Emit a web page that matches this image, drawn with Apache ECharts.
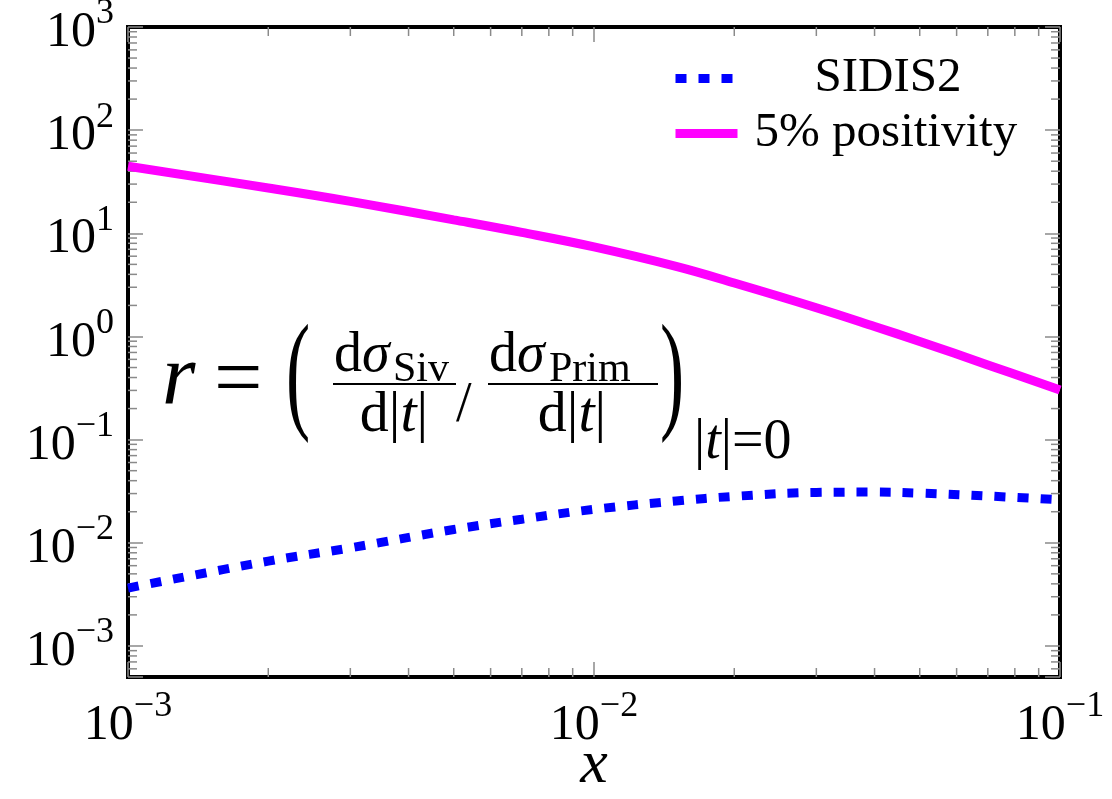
<!DOCTYPE html>
<html>
<head>
<meta charset="utf-8">
<script src="https://cdn.jsdelivr.net/npm/echarts@6/dist/echarts.min.js"></script>
<style>
  html, body { margin: 0; padding: 0; background: #fff; }
  #main { width: 1112px; height: 799px; }
</style>
</head>
<body>
<div id="main"></div>
<script>
// x values (log spaced) and the two curves
const xValues = [0.001, 0.002, 0.003, 0.005, 0.007, 0.01, 0.015, 0.02, 0.03, 0.04, 0.05, 0.07, 0.1];
const sidis2 = [0.00364, 0.00664, 0.00893, 0.01346, 0.01694, 0.0211, 0.0254, 0.0282, 0.0308, 0.0310, 0.0303, 0.0284, 0.0261];
const positivity = [44.7, 27.5, 20.4, 13.5, 10.2, 7.38, 4.78, 3.30, 1.90, 1.25, 0.895, 0.530, 0.302];
const seriesNames = ['SIDIS2', '5% positivity'];

// axis ranges
const xMin = 1e-3, xMax = 1e-1;
const yMin = 5e-4, yMax = 1e3;

const FONT = '"Liberation Serif", "DejaVu Serif", serif';

// minor ticks at 2..9 x 10^k
function minorTicks(lo, hi) {
    let out = [];
    for (let k = -5; k <= 3; k++) {
        for (let m = 2; m <= 9; m++) {
            let v = m * Math.pow(10, k);
            if (v > lo * 1.0001 && v < hi * 0.9999) out.push(v);
        }
    }
    return out;
}
const xMinor = minorTicks(xMin, xMax);
const yMinor = minorTicks(yMin, yMax);

function powLabel(value) {
    let e = Math.log10(value);
    let r = Math.round(e);
    if (Math.abs(e - r) > 1e-6) return '';
    return '{b|10}{s|' + (r < 0 ? '\u2212' : '') + Math.abs(r) + '}';
}
const labelRich = {
    b: { fontFamily: FONT, fontSize: 50, color: '#000', lineHeight: 62, verticalAlign: 'bottom' },
    s: { fontFamily: FONT, fontSize: 36, color: '#000', lineHeight: 62, verticalAlign: 'top' }
};

const tickColor = '#8a8a8a';
const majorTick = { show: true, inside: true, length: 15, lineStyle: { color: tickColor, width: 1.5 } };
const minorLen = 9;

function pairs(ys) {
    return xValues.map((x, i) => [x, ys[i]]);
}

const chart = echarts.init(document.getElementById('main'));

// pieces of the formula annotation
function txt(str, x, y, size, extra) {
    return {
        type: 'text',
        x: x, y: y,
        style: Object.assign({
            text: str, fontFamily: FONT, fontSize: size, fill: '#000',
            align: 'left', verticalAlign: 'middle'
        }, extra || {})
    };
}
function bar(x1, x2, y) {
    return { type: 'line', shape: { x1: x1, y1: y, x2: x2, y2: y }, style: { stroke: '#000', lineWidth: 2 } };
}
function denom(x) {
    return {
        type: 'text', x: x, y: 416,
        style: {
            text: '{u|d|}{i|t}{u||}', fontFamily: FONT, fontSize: 58, align: 'center', verticalAlign: 'middle',
            rich: {
                u: { fontFamily: FONT, fontSize: 58, color: '#000' },
                i: { fontFamily: FONT, fontSize: 58, fontStyle: 'italic', color: '#000' }
            }
        }
    };
}

const option = {
    animation: false,
    backgroundColor: '#fff',
    grid: {
        left: 128, right: 52, top: 27, bottom: 122,
        outerBoundsMode: 'none',
        containLabel: false,
        show: true, borderColor: '#000', borderWidth: 4, backgroundColor: 'transparent'
    },
    legend: {
        data: seriesNames,
        orient: 'vertical',
        left: 666, top: 46,
        itemWidth: 62, itemHeight: 12,
        itemGap: 0,
        itemStyle: { color: 'rgba(0,0,0,0)', borderWidth: 0 },
        lineStyle: { width: 9 },
        formatter: function (name) {
            return (name === seriesNames[0] ? '{padA|}' : '{padB|}') + name;
        },
        textStyle: {
            fontFamily: FONT, fontSize: 49, color: '#000', lineHeight: 55,
            rich: { padA: { width: 72 }, padB: { width: 12 } }
        }
    },
    xAxis: [{
        type: 'log', min: xMin, max: xMax,
        axisLine: { show: false },
        axisTick: majorTick,
        splitLine: { show: false },
        axisLabel: { formatter: powLabel, rich: labelRich, margin: 12 },
        name: 'x', nameLocation: 'middle', nameGap: 58, nameMoveOverlap: false,
        nameTextStyle: { fontFamily: FONT, fontSize: 62, fontStyle: 'italic', color: '#000' }
    }, {
        type: 'log', min: xMin, max: xMax, position: 'top',
        axisLine: { show: false }, axisTick: majorTick,
        splitLine: { show: false }, axisLabel: { show: false }
    }],
    yAxis: [{
        type: 'log', min: yMin, max: yMax,
        axisLine: { show: false },
        axisTick: majorTick,
        splitLine: { show: false },
        axisLabel: { formatter: powLabel, rich: labelRich, margin: 14 }
    }, {
        type: 'log', min: yMin, max: yMax, position: 'right',
        axisLine: { show: false }, axisTick: majorTick,
        splitLine: { show: false }, axisLabel: { show: false }
    }],
    series: [
        {
            type: 'custom', silent: true, clip: false, z: 1,
            data: xMinor.map(v => [v, 1]),
            renderItem: function (params, api) {
                const cs = params.coordSys;
                const x = api.coord([api.value(0), 1])[0];
                const st = { stroke: tickColor, lineWidth: 1.5 };
                return { type: 'group', children: [
                    { type: 'line', shape: { x1: x, y1: cs.y + cs.height, x2: x, y2: cs.y + cs.height - minorLen }, style: st },
                    { type: 'line', shape: { x1: x, y1: cs.y, x2: x, y2: cs.y + minorLen }, style: st }
                ] };
            }
        },
        {
            type: 'custom', silent: true, clip: false, z: 1,
            data: yMinor.map(v => [0.01, v]),
            renderItem: function (params, api) {
                const cs = params.coordSys;
                const y = api.coord([0.01, api.value(1)])[1];
                const st = { stroke: tickColor, lineWidth: 1.5 };
                return { type: 'group', children: [
                    { type: 'line', shape: { x1: cs.x, y1: y, x2: cs.x + minorLen, y2: y }, style: st },
                    { type: 'line', shape: { x1: cs.x + cs.width, y1: y, x2: cs.x + cs.width - minorLen, y2: y }, style: st }
                ] };
            }
        },
        {
            name: seriesNames[0],
            type: 'line',
            data: pairs(sidis2),
            smooth: 0.4,
            showSymbol: false, symbol: 'none',
            color: '#0000ff',
            lineStyle: { color: '#0000ff', width: 9, type: [11, 12], cap: 'butt' },
            z: 3
        },
        {
            name: seriesNames[1],
            type: 'line',
            data: pairs(positivity),
            smooth: 0.4,
            showSymbol: false, symbol: 'none',
            color: '#ff00ff',
            lineStyle: { color: '#ff00ff', width: 9 },
            z: 3
        }
    ],
    graphic: [
        txt('r', 162, 381, 86, { fontStyle: 'italic' }),
        txt('=', 214, 383, 86),
        {
            type: 'text', x: 286, y: 380, scaleX: 0.55,
            style: { text: '(', fontFamily: FONT, fontSize: 132, fill: '#000', align: 'left', verticalAlign: 'middle' }
        },
        txt('d', 334, 356, 56),
        txt('\u03c3', 362, 356, 56, { fontStyle: 'italic' }),
        txt('Siv', 393, 370, 42),
        bar(333, 456, 384),
        denom(394),
        txt('/', 456, 406, 56),
        txt('d', 489, 356, 56),
        txt('\u03c3', 517, 356, 56, { fontStyle: 'italic' }),
        txt('Prim', 549, 370, 42, { letterSpacing: 2 }),
        bar(488, 658, 384),
        denom(572),
        {
            type: 'text', x: 660, y: 380, scaleX: 0.55,
            style: { text: ')', fontFamily: FONT, fontSize: 132, fill: '#000', align: 'left', verticalAlign: 'middle' }
        },
        {
            type: 'text', x: 694, y: 443,
            style: {
                text: '{u||}{i|t}{u||=0}', fontFamily: FONT, fontSize: 56, align: 'left', verticalAlign: 'middle',
                rich: {
                    u: { fontFamily: FONT, fontSize: 56, color: '#000' },
                    i: { fontFamily: FONT, fontSize: 56, fontStyle: 'italic', color: '#000' }
                }
            }
        }
    ]
};

chart.setOption(option);
</script>
</body>
</html>
